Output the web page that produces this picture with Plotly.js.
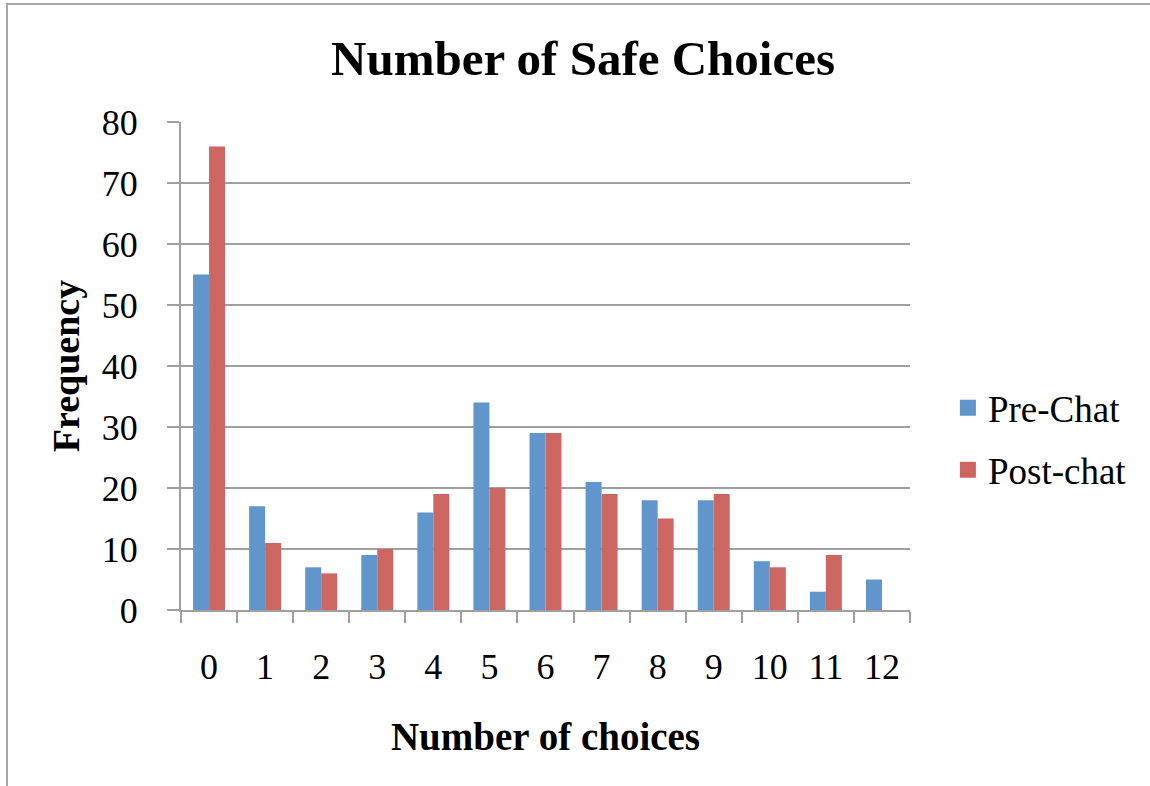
<!DOCTYPE html>
<html>
<head>
<meta charset="utf-8">
<script src="https://cdn.plot.ly/plotly-3.0.1.min.js"></script>
<style>
html,body{margin:0;padding:0;background:#fff;}
#wrap{position:relative;width:1150px;height:786px;overflow:hidden;}
#chart{width:1150px;height:786px;}
#frame{position:absolute;left:6px;top:3px;width:1160px;height:800px;border-left:2px solid #a8a8a8;border-top:2px solid #a8a8a8;pointer-events:none;}
</style>
</head>
<body>
<div id="wrap"><div id="chart"></div><div id="frame"></div></div>
<script>
const categories = ['0','1','2','3','4','5','6','7','8','9','10','11','12'];
const preChat = [55,17,7,9,16,34,29,21,18,18,8,3,5];
const postChat = [76,11,6,10,19,20,29,19,15,19,7,9,null];
const yTicks = [0,10,20,30,40,50,60,70,80];
const seriesNames = ['Pre-Chat','Post-chat'];
const seriesColors = ['#6096CC','#CD6661'];

const FONT = '"Liberation Serif", "DejaVu Serif", serif';
const data = [
  {type:'bar', name:seriesNames[0], x:categories, y:preChat, marker:{color:seriesColors[0]}, showlegend:false, legendgroup:'a'},
  {type:'bar', name:seriesNames[1], x:categories, y:postChat, marker:{color:seriesColors[1]}, showlegend:false, legendgroup:'b'},
  // legend entries (square swatches) for the two bar series
  {type:'scatter', mode:'markers', name:seriesNames[0], x:[null], y:[null], marker:{symbol:'square', size:20, color:seriesColors[0]}, legendgroup:'a', hoverinfo:'skip'},
  {type:'scatter', mode:'markers', name:seriesNames[1], x:[null], y:[null], marker:{symbol:'square', size:20, color:seriesColors[1]}, legendgroup:'b', hoverinfo:'skip'}
];
const layout = {
  width:1150, height:786,
  margin:{l:181, r:240, t:122, b:176, pad:0},
  paper_bgcolor:'#fff', plot_bgcolor:'#fff',
  font:{family:FONT, color:'#000', size:36},
  barmode:'group', bargap:0.43, bargroupgap:0,
  title:{text:'<b>Number of Safe Choices</b>', font:{family:FONT, size:49, color:'#000'}, x:0.507, xanchor:'center', y:0.926, yanchor:'middle'},
  xaxis:{
    type:'category', tickson:'boundaries', ticks:'outside', ticklen:11, tickwidth:2, tickcolor:'#a0a0a0',
    showline:true, linecolor:'#a0a0a0', linewidth:2, showgrid:false,
    tickfont:{family:FONT, size:36}, ticklabelstandoff:24,
    title:{text:'<b>Number of choices</b>', font:{family:FONT, size:39}, standoff:36}
  },
  yaxis:{
    range:[0,80], tickvals:yTicks, ticks:'outside', ticklen:12, tickwidth:2, tickcolor:'#a0a0a0',
    showline:true, linecolor:'#a0a0a0', linewidth:2, gridcolor:'#a0a0a0', gridwidth:2, zeroline:false,
    tickfont:{family:FONT, size:36}, ticklabelstandoff:22,
    title:{text:'<b>Frequency</b>', font:{family:FONT, size:38}, standoff:10}
  },
  legend:{x:1.052, y:0.35, xanchor:'left', yanchor:'middle', font:{family:FONT, size:37}, traceorder:'grouped', tracegroupgap:11, itemwidth:30, itemsizing:'trace', bgcolor:'rgba(0,0,0,0)'},
  showlegend:true
};
Plotly.newPlot('chart', data, layout, {displayModeBar:false, staticPlot:true});
</script>
</body>
</html>
